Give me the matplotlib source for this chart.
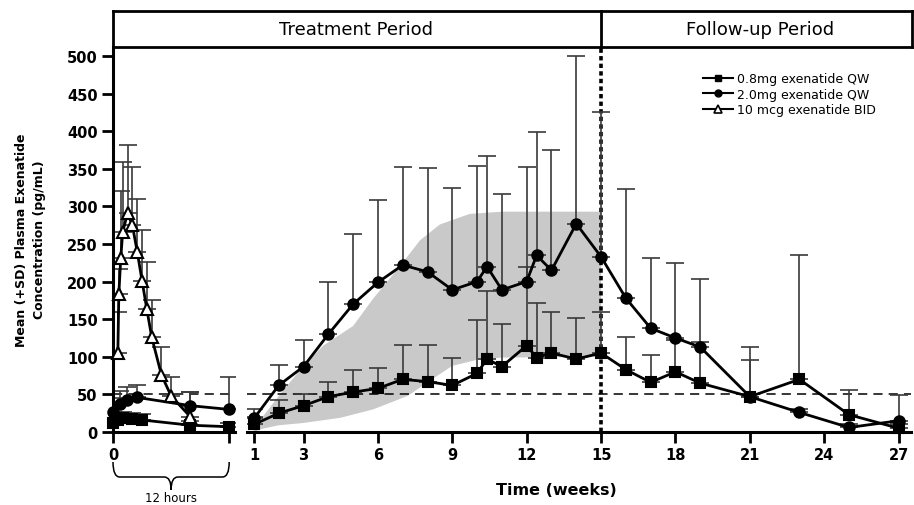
import numpy as np
import matplotlib
matplotlib.use("Agg")
import matplotlib.pyplot as plt
import matplotlib.transforms as mtransforms
from matplotlib.path import Path
from matplotlib.patches import PathPatch
from matplotlib.lines import Line2D

plt.rcParams['font.family'] = ['DejaVu Sans']

# ---------------- data ----------------
# Left panel: first 12 hours (x in hours)
hours_08 = [0, 0.5, 1.0, 2.0, 3.0, 8.0, 12.0]
mean_08_h = [12, 16, 18, 17, 16, 9, 7]
sd_08_h_top = [20, 24, 26, 25, 24, 14, 12]

hours_20 = [0, 0.7, 1.4, 2.5, 8.0, 12.0]
mean_20_h = [26, 37, 42, 46, 35, 30]
sd_20_h_top = [45, 55, 60, 62, 53, 73]

hours_bid = [0.5, 0.6, 0.8, 1.0, 1.5, 2.0, 2.5, 3.0, 3.5, 4.0, 5.0, 6.0, 8.0]
mean_bid = [105, 183, 231, 266, 291, 275, 240, 201, 163, 126, 76, 48, 20]
sd_bid_top = [160, 217, 321, 359, 382, 353, 310, 268, 226, 176, 113, 73, 53]

# Right panel: weeks
weeks = [1, 2, 3, 4, 5, 6, 7, 8, 9, 10, 10.4, 11, 12, 12.4, 13, 14, 15,
         16, 17, 18, 19, 21, 23, 25, 27]
mean_08 = [10, 25, 35, 47, 53, 58, 70, 67, 62, 78, 97, 87, 115, 99, 105, 97, 105,
           83, 66, 80, 65, 47, 70, 23, 5]
sd_08_top = [20, 42, 50, 66, 82, 85, 116, 116, 99, 149, 188, 143, 220, 172, 159, 152, 159,
             127, 102, 122, 120, 96, 235, 56, 10]
mean_20 = [18, 62, 87, 130, 170, 199, 222, 213, 189, 200, 220, 189, 200, 235, 215, 277, 233,
           178, 138, 125, 113, 47, 26, 6, 15]
sd_20_top = [30, 89, 123, 200, 263, 309, 352, 351, 325, 354, 367, 316, 353, 399, 375, 500, 426,
             323, 232, 225, 203, 113, 30, 10, 49]

# Shaded band (treatment period)
band_up_w = [1, 2, 3, 3.8, 5, 5.8, 6.9, 7.7, 8.5, 9.7, 11, 15]
band_up = [5, 48, 88, 115, 141, 177, 221, 255, 276, 290, 293, 293]
band_lo_w = [1, 1.3, 2, 3, 4.5, 5.8, 7.2, 8, 9, 10, 11, 15]
band_lo = [0, 4, 9, 12, 19, 30, 48, 66, 88, 96, 99, 100]

yticks = [0, 50, 100, 150, 200, 250, 300, 350, 400, 450, 500]
xticks_w = [1, 3, 6, 9, 12, 15, 18, 21, 24, 27]
threshold = 50
end_treatment = 15

labels = ["0.8mg exenatide QW", "2.0mg exenatide QW", "10 mcg exenatide BID"]

# ---------------- figure ----------------
W, H = 914, 506
fig = plt.figure(figsize=(W / 100, H / 100), dpi=100)


def px(x0, y0, x1, y1):
    return [x0 / W, 1 - y1 / H, (x1 - x0) / W, (y1 - y0) / H]


axL = fig.add_axes(px(113, 48, 235, 433))
axR = fig.add_axes(px(247, 48, 911, 433))
axH = fig.add_axes(px(113, 11.7, 912, 48))

ecol = '#3a3a3a'
tickfont = dict(fontsize=10.5, fontweight='bold')

for ax in (axL, axR):
    ax.set_ylim(0, 512)
    for s in ('top', 'right'):
        ax.spines[s].set_visible(False)
    ax.spines['bottom'].set_linewidth(2.2)
    ax.axhline(threshold, color='black', lw=1.1, ls=(0, (6, 4)), zorder=1)

axL.set_xlim(0, 12.6)
axR.set_xlim(0.72, 27.5)
axL.spines['left'].set_linewidth(2.2)
axR.spines['left'].set_visible(False)
axR.set_yticks([])

axL.set_yticks(yticks)
axL.set_yticklabels([str(v) for v in yticks], **tickfont)
axL.set_xticks([0, 12])
axL.set_xticklabels(['0', ''], **tickfont)
axL.tick_params(axis='both', direction='out', length=8, width=2, pad=3)

axR.set_xticks(xticks_w)
axR.set_xticklabels([str(v) for v in xticks_w], **tickfont)
axR.tick_params(axis='x', direction='out', length=8, width=2, pad=3)

# band
axR.fill(band_up_w + band_lo_w[::-1], band_up + band_lo[::-1],
         color='#c9c9c9', lw=0, zorder=0.5)

# vertical dotted line at end of treatment
axR.axvline(end_treatment, color='black', lw=2.6, ls=(0, (1.2, 0.9)), zorder=1.5)


def draw(ax, x, y, top, marker, ms, mfc, zo):
    x = np.asarray(x, float)
    y = np.asarray(y, float)
    top = np.asarray(top, float)
    ax.errorbar(x, y, yerr=[np.zeros_like(y), top - y], fmt='none', ecolor=ecol,
                elinewidth=1.2, capsize=6.5, capthick=1.2, zorder=2)
    ax.plot(x, y, color='black', lw=2, marker=marker, ms=ms, mfc=mfc, mec='black',
            mew=1.5, zorder=zo, clip_on=False)


draw(axL, hours_08, mean_08_h, sd_08_h_top, 's', 7.5, 'black', 4)
draw(axL, hours_20, mean_20_h, sd_20_h_top, 'o', 7.5, 'black', 4)
draw(axL, hours_bid, mean_bid, sd_bid_top, '^', 9, 'white', 5)

draw(axR, weeks, mean_08, sd_08_top, 's', 7.5, 'black', 4)
draw(axR, weeks, mean_20, sd_20_top, 'o', 7.5, 'black', 4)

# header box
axH.set_xticks([])
axH.set_yticks([])
axH.set_xlim(0, 1)
axH.set_ylim(0, 1)
for s in axH.spines.values():
    s.set_linewidth(2)
trH = mtransforms.blended_transform_factory(axR.transData, axH.transAxes)
axH.plot([end_treatment, end_treatment], [0, 1], color='black', lw=2, transform=trH,
         clip_on=False)
axH.text((356 - 113) / 799, 0.5, "Treatment Period", ha='center', va='center', fontsize=13)
axH.text((760 - 113) / 799, 0.5, "Follow-up Period", ha='center', va='center', fontsize=13)

# legend
handles = [
    Line2D([], [], color='black', lw=1.5, marker='s', ms=5, mfc='black', mec='black'),
    Line2D([], [], color='black', lw=1.5, marker='o', ms=5, mfc='black', mec='black'),
    Line2D([], [], color='black', lw=1.5, marker='^', ms=6, mfc='white', mec='black', mew=1.2),
]
fig.legend(handles, labels, loc='upper left', bbox_to_anchor=(703 / W, 1 - 73 / H),
           frameon=False, fontsize=9, handlelength=2.4, handletextpad=0.3,
           labelspacing=0.2, borderpad=0, borderaxespad=0)

# brace under the 12-hour panel
trB = mtransforms.blended_transform_factory(axL.transData, fig.transFigure)
yt, ym, yb = 1 - 463 / H, 1 - 478 / H, 1 - 491 / H
verts = [(0, yt), (0, ym), (0.7, ym), (5.3, ym), (6, ym), (6, yb),
         (6, ym), (6.7, ym), (11.3, ym), (12, ym), (12, yt)]
codes = [Path.MOVETO, Path.CURVE3, Path.CURVE3, Path.LINETO, Path.CURVE3, Path.CURVE3,
         Path.CURVE3, Path.CURVE3, Path.LINETO, Path.CURVE3, Path.CURVE3]
fig.add_artist(PathPatch(Path(verts, codes), transform=trB, fill=False, lw=1.1,
                         color='black'))
fig.text(6, 1 - 499 / H, "12 hours", transform=trB, ha='center', va='center', fontsize=8.5)

# axis titles
fig.text(556 / W, 1 - 491 / H, "Time (weeks)", ha='center', va='center',
         fontsize=11.5, fontweight='bold')
fig.text(31 / W, 1 - 240 / H, "Mean (+SD) Plasma Exenatide\nConcentration (pg/mL)",
         rotation=90, ha='center', va='center', fontsize=9, fontweight='bold',
         linespacing=1.5, multialignment='center')

fig.savefig("out.png", dpi=100)
